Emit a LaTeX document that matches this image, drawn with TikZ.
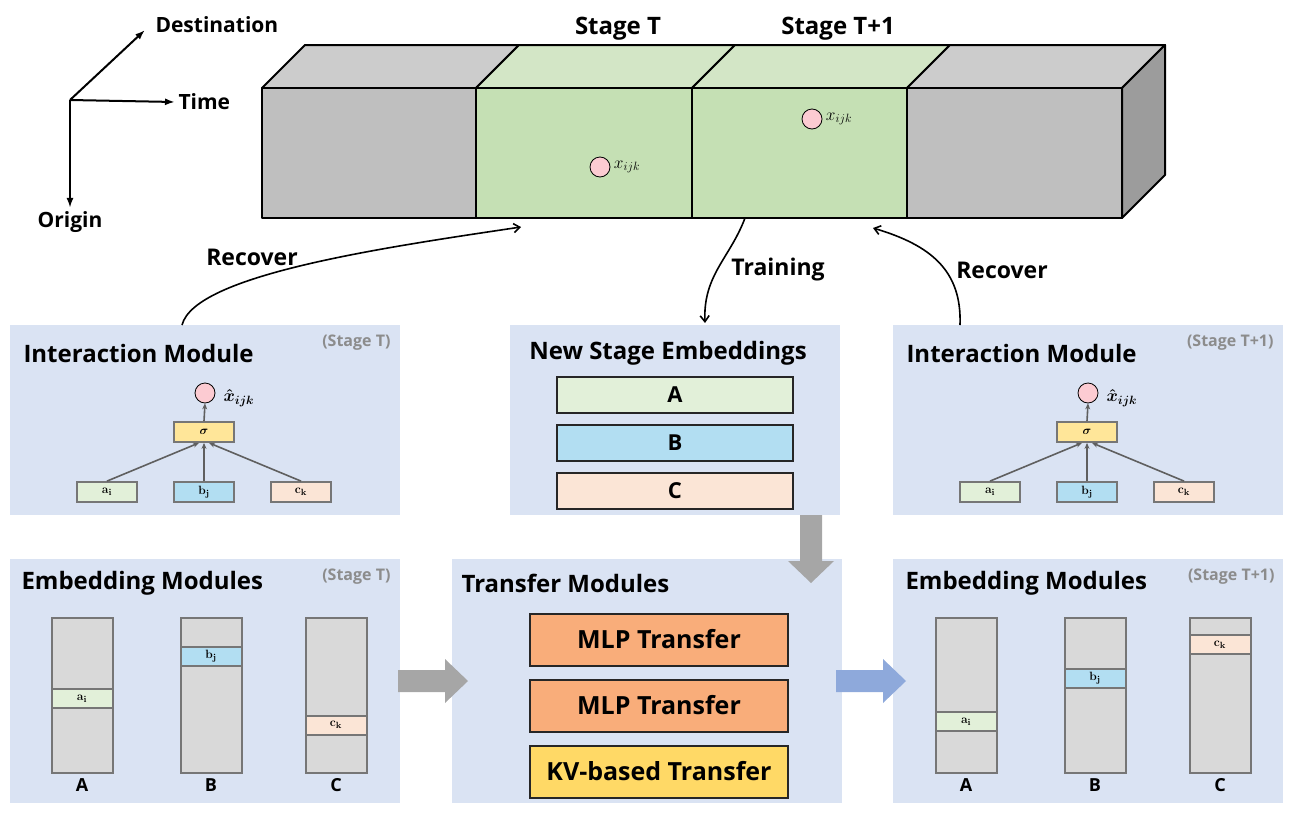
\documentclass[tikz,border=0pt]{standalone}
\usepackage{amsmath,amssymb}
\usepackage{bm}
\usepackage[no-math]{fontspec}
\setmainfont{Open Sans}
\usetikzlibrary{positioning,arrows.meta}

\definecolor{panelblue}{HTML}{DAE3F3}
\definecolor{tagGray}{HTML}{8C8C8C}
\definecolor{boxgray}{HTML}{767676}
\definecolor{colgray}{HTML}{D9D9D9}
\definecolor{arrowgray}{HTML}{5F5F5F}
\definecolor{vecgreen}{HTML}{E2F0D9}
\definecolor{vecblue}{HTML}{B2DEF2}
\definecolor{vecpeach}{HTML}{FBE5D6}
\definecolor{sigyellow}{HTML}{FFE699}
\definecolor{mlporange}{HTML}{F9AD7A}
\definecolor{kvyellow}{HTML}{FFD966}
\definecolor{dotpink}{HTML}{FCCBD2}
\definecolor{cubegreen}{HTML}{C5E0B4}
\definecolor{cubegreentop}{HTML}{D3E6C6}
\definecolor{cubegray}{HTML}{BFBFBF}
\definecolor{cubegraytop}{HTML}{CCCCCC}
\definecolor{cubeside}{HTML}{9C9C9C}
\definecolor{bigarrow}{HTML}{A6A6A6}
\definecolor{bluearrow}{HTML}{8EA9DB}

\begin{document}
\begin{tikzpicture}[
    x=1pt, y=-1pt,
    panel/.style={fill=panelblue, anchor=north west, inner sep=0pt},
    title/.style={font=\fontsize{24}{26}\selectfont\bfseries, anchor=west},
    stagetag/.style={font=\fontsize{16}{18}\selectfont\bfseries, text=tagGray, anchor=east},
    label/.style={font=\fontsize{21}{23}\selectfont\bfseries},
    emb/.style={draw=black!85, line width=2pt, minimum width=236pt, minimum height=36pt, font=\fontsize{22}{24}\selectfont\bfseries},
    xfer/.style={draw=black!85, line width=2pt, minimum width=258pt, minimum height=52pt, font=\fontsize{25}{27}\selectfont\bfseries},
    vec/.style={draw=boxgray, line width=1.8pt, minimum width=60pt, minimum height=20pt, inner sep=0pt, font=\fontsize{13}{14}\selectfont},
    column/.style={draw=boxgray, line width=2pt, fill=colgray, minimum width=61pt, minimum height=155pt},
    cell/.style={draw=boxgray, line width=2pt, minimum width=61pt, minimum height=19pt, inner sep=0pt, font=\fontsize{13}{14}\selectfont},
    dot/.style={circle, draw=black, line width=0.8pt, fill=dotpink, minimum size=20pt, inner sep=0pt},
    link/.style={-{Stealth[length=6pt,width=5pt]}, draw=arrowgray, line width=1.6pt},
    flow/.style={-{Straight Barb[length=6pt,width=9pt]}, line width=1.6pt},
    axis/.style={-{Latex[length=10pt,width=7pt]}, line width=2pt},
    face/.style={draw=black, line width=2pt, line join=round}
]
    \useasboundingbox (0,0) rectangle (1293,814);

    % axes
    \coordinate (ax0) at (70,100);
    \coordinate (destTip) at (145,30);
    \node[label, anchor=west] (dest) at (152,25) {Destination};
    \node[label, anchor=west] (time) at (175,102) {Time};
    \node[label] (origin) at (70,222) {Origin};
    \draw[axis] (ax0) -- (destTip);
    \draw[axis] (ax0) -- (time.west);
    \draw[axis] (ax0) -- (origin.north);

    % tensor cube
    \foreach \xa/\xb/\fr/\tp in {262/476/cubegray/cubegraytop, 476/692/cubegreen/cubegreentop, 692/907/cubegreen/cubegreentop, 907/1122/cubegray/cubegraytop} {
        \filldraw[face, fill=\tp] (\xa,88) -- (\xa+43,45) -- (\xb+43,45) -- (\xb,88) -- cycle;
        \filldraw[face, fill=\fr] (\xa,88) rectangle (\xb,218);
    }
    \filldraw[face, fill=cubeside] (1122,88) -- (1165,45) -- (1165,175) -- (1122,218) -- cycle;
    \node[label, font=\fontsize{24}{26}\selectfont\bfseries] (stT) at (618,29) {Stage T};
    \node[label, font=\fontsize{24}{26}\selectfont\bfseries] (stT1) at (838,29) {Stage T+1};
    \node[dot] (x1) at (600,167) {};
    \node[anchor=west, font=\fontsize{18}{20}\selectfont] (x1lab) at (x1.east) {$x_{ijk}$};
    \node[dot] (x2) at (812,119) {};
    \node[anchor=west, font=\fontsize{18}{20}\selectfont] (x2lab) at (x2.east) {$x_{ijk}$};

    % panels
    \node[panel, minimum width=390pt, minimum height=190pt] (intL) at (10,325) {};
    \node[panel, minimum width=330pt, minimum height=190pt] (newE) at (510,325) {};
    \node[panel, minimum width=390pt, minimum height=190pt] (intR) at (893,325) {};
    \node[panel, minimum width=390pt, minimum height=244pt] (embL) at (10,559) {};
    \node[panel, minimum width=390pt, minimum height=244pt] (xferP) at (452,559) {};
    \node[panel, minimum width=390pt, minimum height=244pt] (embR) at (893,559) {};

    % interaction modules
    \foreach \off/\nm/\tag in {0/L/Stage T, 883/R/Stage T+1} {
        \node[title] (intTitle\nm) at (20+\off,353) {Interaction Module};
        \node[stagetag] (intTag\nm) at (394+\off,343) {(\tag)};
        \node[dot] (yhat\nm) at (205+\off,393) {};
        \node[anchor=west, font=\fontsize{18}{20}\selectfont] (yhatLab\nm) at (220+\off,398) {$\bm{\hat{x}_{ijk}}$};
        \node[vec, fill=sigyellow] (sig\nm) at (204+\off,432) {$\bm{\sigma}$};
        \node[vec, fill=vecgreen] (a\nm) at (107+\off,492) {$\mathbf{a}_{\mathbf{i}}$};
        \node[vec, fill=vecblue] (b\nm) at (204+\off,492) {$\mathbf{b}_{\mathbf{j}}$};
        \node[vec, fill=vecpeach] (c\nm) at (301+\off,492) {$\mathbf{c}_{\mathbf{k}}$};
        \draw[link] (a\nm.north) -- ([xshift=-5pt]sig\nm.south);
        \draw[link] (b\nm.north) -- (sig\nm.south);
        \draw[link] (c\nm.north) -- ([xshift=5pt]sig\nm.south);
        \draw[link] (sig\nm.north) -- (yhat\nm.south);
    }

    % new stage embeddings
    \node[font=\fontsize{24}{26}\selectfont\bfseries] (newTitle) at (668,353) {New Stage Embeddings};
    \node[emb, fill=vecgreen] (embA) at (675,395) {A};
    \node[emb, fill=vecblue, below=10pt of embA] (embB) {B};
    \node[emb, fill=vecpeach, below=10pt of embB] (embC) {C};

    % embedding modules
    \foreach \off/\nm/\tag/\ya/\yb/\yc in {0/L/Stage T/698.5/656/725, 884/R/Stage T+1/721.5/678/644.5} {
        \node[title] (embTitle\nm) at (18+\off,583) {Embedding Modules};
        \node[stagetag] (embTag\nm) at (394+\off,577) {(\tag)};
        \node[column] (colA\nm) at (82+\off,695.5) {};
        \node[column] (colB\nm) at (211+\off,695.5) {};
        \node[column] (colC\nm) at (336+\off,695.5) {};
        \node[cell, fill=vecgreen] (cellA\nm) at (82+\off,\ya) {$\mathbf{a}_{\mathbf{i}}$};
        \node[cell, fill=vecblue] (cellB\nm) at (211+\off,\yb) {$\mathbf{b}_{\mathbf{j}}$};
        \node[cell, fill=vecpeach] (cellC\nm) at (336+\off,\yc) {$\mathbf{c}_{\mathbf{k}}$};
        \node[font=\fontsize{18}{20}\selectfont\bfseries, below=1pt of colA\nm] {A};
        \node[font=\fontsize{18}{20}\selectfont\bfseries, below=1pt of colB\nm] {B};
        \node[font=\fontsize{18}{20}\selectfont\bfseries, below=1pt of colC\nm] {C};
    }

    % transfer modules
    \node[title] (xferTitle) at (458,583) {Transfer Modules};
    \node[xfer, fill=mlporange] (mlp1) at (659,639.5) {MLP Transfer};
    \node[xfer, fill=mlporange, below=12pt of mlp1] (mlp2) {MLP Transfer};
    \node[xfer, fill=kvyellow, below=12pt of mlp2] (kv) {KV-based Transfer};

    % block arrows
    \fill[bigarrow] (398,670) -- (445,670) -- (445,659) -- (468,681) -- (445,703) -- (445,692) -- (398,692) -- cycle;
    \fill[bluearrow] (836,670) -- (883,670) -- (883,659) -- (906,681) -- (883,703) -- (883,692) -- (836,692) -- cycle;
    \fill[bigarrow] (800,515) -- (822,515) -- (822,561) -- (834,561) -- (811,583) -- (788,561) -- (800,561) -- cycle;

    % recover / training
    \coordinate (recLfrom) at (182,325);
    \coordinate (recLto) at (521,227);
    \coordinate (trFrom) at (745,218);
    \coordinate (trTo) at (705,323);
    \coordinate (recRfrom) at (960,325);
    \coordinate (recRto) at (873,228);
    \draw[flow] (recLfrom) .. controls (195,275) and (380,248) .. (recLto);
    \draw[flow] (trFrom) .. controls (730,258) and (703,275) .. (trTo);
    \draw[flow] (recRfrom) .. controls (962,270) and (930,245) .. (recRto);
    \node[label, font=\fontsize{23}{25}\selectfont\bfseries] (recLlab) at (252,257) {Recover};
    \node[label, font=\fontsize{23}{25}\selectfont\bfseries] (trLab) at (778,270) {Training};
    \node[label, font=\fontsize{23}{25}\selectfont\bfseries] (recRlab) at (1002,270) {Recover};
\end{tikzpicture}
\end{document}
